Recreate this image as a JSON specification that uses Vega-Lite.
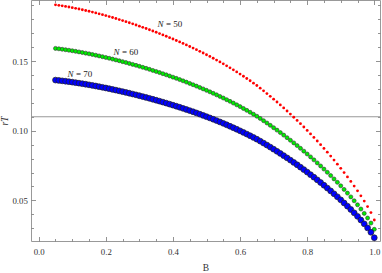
{
"$schema":"https://vega.github.io/schema/vega-lite/v6.json",
"width":349,"height":241,"autosize":"none",
"padding":{"left":31,"top":0,"right":2,"bottom":32},
"config":{"view":{"stroke":"#999","strokeWidth":1},
"axis":{"domain":false,"grid":false,"tickColor":"#777","tickWidth":0.8,"labelFont":"Liberation Serif","labelFontSize":8.8,"labelColor":"#333","labelFlush":false,"titleFont":"Liberation Serif","titleFontSize":9.5,"titleFontWeight":"normal","titleColor":"#333"}},
"datasets":{
"hline":[{"r":0.11}],
"n50":[{"B":0.05,"r":0.19031},{"B":0.06,"r":0.18995},{"B":0.07,"r":0.18957},{"B":0.08,"r":0.18916},{"B":0.09,"r":0.18873},{"B":0.10,"r":0.18828},{"B":0.11,"r":0.18780},{"B":0.12,"r":0.18730},{"B":0.13,"r":0.18678},{"B":0.14,"r":0.18623},{"B":0.15,"r":0.18567},{"B":0.16,"r":0.18509},{"B":0.17,"r":0.18448},{"B":0.18,"r":0.18386},{"B":0.19,"r":0.18322},{"B":0.20,"r":0.18256},{"B":0.21,"r":0.18188},{"B":0.22,"r":0.18118},{"B":0.23,"r":0.18047},{"B":0.24,"r":0.17974},{"B":0.25,"r":0.17899},{"B":0.26,"r":0.17823},{"B":0.27,"r":0.17745},{"B":0.28,"r":0.17665},{"B":0.29,"r":0.17584},{"B":0.30,"r":0.17501},{"B":0.31,"r":0.17416},{"B":0.32,"r":0.17330},{"B":0.33,"r":0.17242},{"B":0.34,"r":0.17152},{"B":0.35,"r":0.17060},{"B":0.36,"r":0.16967},{"B":0.37,"r":0.16872},{"B":0.38,"r":0.16775},{"B":0.39,"r":0.16676},{"B":0.40,"r":0.16576},{"B":0.41,"r":0.16473},{"B":0.42,"r":0.16368},{"B":0.43,"r":0.16262},{"B":0.44,"r":0.16153},{"B":0.45,"r":0.16042},{"B":0.46,"r":0.15928},{"B":0.47,"r":0.15813},{"B":0.48,"r":0.15695},{"B":0.49,"r":0.15574},{"B":0.50,"r":0.15451},{"B":0.51,"r":0.15326},{"B":0.52,"r":0.15197},{"B":0.53,"r":0.15066},{"B":0.54,"r":0.14932},{"B":0.55,"r":0.14795},{"B":0.56,"r":0.14655},{"B":0.57,"r":0.14512},{"B":0.58,"r":0.14365},{"B":0.59,"r":0.14215},{"B":0.60,"r":0.14062},{"B":0.61,"r":0.13906},{"B":0.62,"r":0.13745},{"B":0.63,"r":0.13581},{"B":0.64,"r":0.13413},{"B":0.65,"r":0.13242},{"B":0.66,"r":0.13053},{"B":0.67,"r":0.12861},{"B":0.68,"r":0.12666},{"B":0.69,"r":0.12467},{"B":0.70,"r":0.12264},{"B":0.71,"r":0.12057},{"B":0.72,"r":0.11847},{"B":0.73,"r":0.11633},{"B":0.74,"r":0.11414},{"B":0.75,"r":0.11193},{"B":0.76,"r":0.10967},{"B":0.77,"r":0.10737},{"B":0.78,"r":0.10502},{"B":0.79,"r":0.10263},{"B":0.80,"r":0.10020},{"B":0.81,"r":0.09772},{"B":0.82,"r":0.09519},{"B":0.83,"r":0.09261},{"B":0.84,"r":0.08999},{"B":0.85,"r":0.08731},{"B":0.86,"r":0.08458},{"B":0.87,"r":0.08178},{"B":0.88,"r":0.07893},{"B":0.89,"r":0.07601},{"B":0.90,"r":0.07303},{"B":0.91,"r":0.06997},{"B":0.92,"r":0.06683},{"B":0.93,"r":0.06360},{"B":0.94,"r":0.06027},{"B":0.95,"r":0.05684},{"B":0.96,"r":0.05326},{"B":0.97,"r":0.04952},{"B":0.98,"r":0.04557},{"B":0.99,"r":0.04127},{"B":1.00,"r":0.03594}],
"n60":[{"B":0.05,"r":0.15905},{"B":0.06,"r":0.15875},{"B":0.07,"r":0.15843},{"B":0.08,"r":0.15809},{"B":0.09,"r":0.15773},{"B":0.10,"r":0.15734},{"B":0.11,"r":0.15694},{"B":0.12,"r":0.15652},{"B":0.13,"r":0.15608},{"B":0.14,"r":0.15563},{"B":0.15,"r":0.15515},{"B":0.16,"r":0.15466},{"B":0.17,"r":0.15415},{"B":0.18,"r":0.15363},{"B":0.19,"r":0.15309},{"B":0.20,"r":0.15253},{"B":0.21,"r":0.15197},{"B":0.22,"r":0.15138},{"B":0.23,"r":0.15078},{"B":0.24,"r":0.15017},{"B":0.25,"r":0.14954},{"B":0.26,"r":0.14890},{"B":0.27,"r":0.14824},{"B":0.28,"r":0.14757},{"B":0.29,"r":0.14688},{"B":0.30,"r":0.14619},{"B":0.31,"r":0.14547},{"B":0.32,"r":0.14475},{"B":0.33,"r":0.14401},{"B":0.34,"r":0.14325},{"B":0.35,"r":0.14249},{"B":0.36,"r":0.14170},{"B":0.37,"r":0.14090},{"B":0.38,"r":0.14009},{"B":0.39,"r":0.13926},{"B":0.40,"r":0.13841},{"B":0.41,"r":0.13755},{"B":0.42,"r":0.13667},{"B":0.43,"r":0.13577},{"B":0.44,"r":0.13485},{"B":0.45,"r":0.13392},{"B":0.46,"r":0.13297},{"B":0.47,"r":0.13200},{"B":0.48,"r":0.13100},{"B":0.49,"r":0.12999},{"B":0.50,"r":0.12896},{"B":0.51,"r":0.12790},{"B":0.52,"r":0.12682},{"B":0.53,"r":0.12572},{"B":0.54,"r":0.12459},{"B":0.55,"r":0.12344},{"B":0.56,"r":0.12226},{"B":0.57,"r":0.12106},{"B":0.58,"r":0.11983},{"B":0.59,"r":0.11857},{"B":0.60,"r":0.11728},{"B":0.61,"r":0.11596},{"B":0.62,"r":0.11461},{"B":0.63,"r":0.11323},{"B":0.64,"r":0.11182},{"B":0.65,"r":0.11038},{"B":0.66,"r":0.10880},{"B":0.67,"r":0.10718},{"B":0.68,"r":0.10554},{"B":0.69,"r":0.10386},{"B":0.70,"r":0.10216},{"B":0.71,"r":0.10042},{"B":0.72,"r":0.09865},{"B":0.73,"r":0.09685},{"B":0.74,"r":0.09502},{"B":0.75,"r":0.09315},{"B":0.76,"r":0.09126},{"B":0.77,"r":0.08932},{"B":0.78,"r":0.08735},{"B":0.79,"r":0.08534},{"B":0.80,"r":0.08329},{"B":0.81,"r":0.08121},{"B":0.82,"r":0.07908},{"B":0.83,"r":0.07692},{"B":0.84,"r":0.07471},{"B":0.85,"r":0.07246},{"B":0.86,"r":0.07016},{"B":0.87,"r":0.06781},{"B":0.88,"r":0.06541},{"B":0.89,"r":0.06296},{"B":0.90,"r":0.06045},{"B":0.91,"r":0.05788},{"B":0.92,"r":0.05524},{"B":0.93,"r":0.05253},{"B":0.94,"r":0.04973},{"B":0.95,"r":0.04684},{"B":0.96,"r":0.04383},{"B":0.97,"r":0.04069},{"B":0.98,"r":0.03736},{"B":0.99,"r":0.03375},{"B":1.00,"r":0.02927}],
"n70":[{"B":0.05,"r":0.13631},{"B":0.06,"r":0.13605},{"B":0.07,"r":0.13577},{"B":0.08,"r":0.13547},{"B":0.09,"r":0.13515},{"B":0.10,"r":0.13482},{"B":0.11,"r":0.13447},{"B":0.12,"r":0.13410},{"B":0.13,"r":0.13372},{"B":0.14,"r":0.13332},{"B":0.15,"r":0.13291},{"B":0.16,"r":0.13248},{"B":0.17,"r":0.13204},{"B":0.18,"r":0.13158},{"B":0.19,"r":0.13111},{"B":0.20,"r":0.13063},{"B":0.21,"r":0.13013},{"B":0.22,"r":0.12962},{"B":0.23,"r":0.12910},{"B":0.24,"r":0.12857},{"B":0.25,"r":0.12802},{"B":0.26,"r":0.12746},{"B":0.27,"r":0.12689},{"B":0.28,"r":0.12630},{"B":0.29,"r":0.12571},{"B":0.30,"r":0.12510},{"B":0.31,"r":0.12448},{"B":0.32,"r":0.12385},{"B":0.33,"r":0.12320},{"B":0.34,"r":0.12254},{"B":0.35,"r":0.12187},{"B":0.36,"r":0.12119},{"B":0.37,"r":0.12050},{"B":0.38,"r":0.11978},{"B":0.39,"r":0.11906},{"B":0.40,"r":0.11832},{"B":0.41,"r":0.11757},{"B":0.42,"r":0.11681},{"B":0.43,"r":0.11602},{"B":0.44,"r":0.11523},{"B":0.45,"r":0.11441},{"B":0.46,"r":0.11358},{"B":0.47,"r":0.11274},{"B":0.48,"r":0.11187},{"B":0.49,"r":0.11099},{"B":0.50,"r":0.11009},{"B":0.51,"r":0.10917},{"B":0.52,"r":0.10823},{"B":0.53,"r":0.10727},{"B":0.54,"r":0.10629},{"B":0.55,"r":0.10528},{"B":0.56,"r":0.10426},{"B":0.57,"r":0.10321},{"B":0.58,"r":0.10213},{"B":0.59,"r":0.10104},{"B":0.60,"r":0.09991},{"B":0.61,"r":0.09877},{"B":0.62,"r":0.09759},{"B":0.63,"r":0.09639},{"B":0.64,"r":0.09516},{"B":0.65,"r":0.09391},{"B":0.66,"r":0.09253},{"B":0.67,"r":0.09112},{"B":0.68,"r":0.08969},{"B":0.69,"r":0.08823},{"B":0.70,"r":0.08674},{"B":0.71,"r":0.08523},{"B":0.72,"r":0.08369},{"B":0.73,"r":0.08212},{"B":0.74,"r":0.08052},{"B":0.75,"r":0.07890},{"B":0.76,"r":0.07724},{"B":0.77,"r":0.07556},{"B":0.78,"r":0.07384},{"B":0.79,"r":0.07209},{"B":0.80,"r":0.07030},{"B":0.81,"r":0.06849},{"B":0.82,"r":0.06664},{"B":0.83,"r":0.06475},{"B":0.84,"r":0.06283},{"B":0.85,"r":0.06087},{"B":0.86,"r":0.05886},{"B":0.87,"r":0.05682},{"B":0.88,"r":0.05473},{"B":0.89,"r":0.05259},{"B":0.90,"r":0.05040},{"B":0.91,"r":0.04816},{"B":0.92,"r":0.04586},{"B":0.93,"r":0.04350},{"B":0.94,"r":0.04106},{"B":0.95,"r":0.03855},{"B":0.96,"r":0.03593},{"B":0.97,"r":0.03319},{"B":0.98,"r":0.03029},{"B":0.99,"r":0.02714},{"B":1.00,"r":0.02324}],
"labs":[{"B":0.3716,"r":0.17654,"n":"N","t":"= 50"},{"B":0.2406,"r":0.15681,"n":"N","t":"= 60"},{"B":0.1036,"r":0.14067,"n":"N","t":"= 70"}]
},
"resolve":{"axis":{"x":"independent","y":"independent"}},
"layer":[
{"data":{"name":"hline"},"mark":{"type":"rule","color":"#999","strokeWidth":1},
 "encoding":{"y":{"field":"r","type":"quantitative","scale":{"domain":[0.02088,0.19376],"nice":false,"zero":false},"axis":null}}},
{"data":{"name":"n50"},"mark":{"type":"circle","size":8,"color":"#ff0000","opacity":1},
 "encoding":{"x":{"field":"B","type":"quantitative","scale":{"domain":[-0.023,1.017],"nice":false,"zero":false},
   "axis":{"orient":"bottom","values":[0,0.2,0.4,0.6,0.8,1],"format":".1f","tickSize":-4.5,"labelPadding":10.7,"title":"B","titlePadding":6}},
  "y":{"field":"r","type":"quantitative","scale":{"domain":[0.02088,0.19376],"nice":false,"zero":false},
   "axis":{"orient":"left","values":[0.05,0.1,0.15],"format":".2f","tickSize":-4.5,"labelPadding":8.2,"title":"rT","titleFontStyle":"italic","titlePadding":2}}}},
{"data":{"name":"n60"},"mark":{"type":"circle","size":16,"fill":"#00ee00","stroke":"#333","strokeWidth":0.6,"opacity":1},
 "encoding":{"x":{"field":"B","type":"quantitative","scale":{"domain":[-0.023,1.017],"nice":false,"zero":false},
   "axis":{"orient":"top","values":[0,0.2,0.4,0.6,0.8,1],"tickSize":-4.5,"labels":false,"title":null}},
  "y":{"field":"r","type":"quantitative","scale":{"domain":[0.02088,0.19376],"nice":false,"zero":false},
   "axis":{"orient":"right","values":[0.05,0.1,0.15],"tickSize":-4.5,"labels":false,"title":null}}}},
{"data":{"name":"n70"},"mark":{"type":"circle","size":34,"fill":"#0000ff","stroke":"#222","strokeWidth":0.7,"opacity":1},
 "encoding":{"x":{"field":"B","type":"quantitative","scale":{"domain":[-0.023,1.017],"nice":false,"zero":false},
   "axis":{"orient":"bottom","values":[0.05,0.1,0.15,0.25,0.3,0.35,0.45,0.5,0.55,0.65,0.7,0.75,0.85,0.9,0.95],"tickSize":-2.5,"labels":false,"title":null}},
  "y":{"field":"r","type":"quantitative","scale":{"domain":[0.02088,0.19376],"nice":false,"zero":false},
   "axis":{"orient":"left","values":[0.03,0.04,0.06,0.07,0.08,0.09,0.11,0.12,0.13,0.14,0.16,0.17,0.18,0.19],"tickSize":-2.5,"labels":false,"title":null}}}},
{"data":{"name":"labs"},"mark":{"type":"text","font":"Liberation Serif","fontSize":9,"fontStyle":"italic","align":"right","baseline":"middle","color":"#222"},
 "encoding":{"x":{"field":"B","type":"quantitative","scale":{"domain":[-0.023,1.017],"nice":false,"zero":false},
   "axis":{"orient":"top","values":[0.05,0.1,0.15,0.25,0.3,0.35,0.45,0.5,0.55,0.65,0.7,0.75,0.85,0.9,0.95],"tickSize":-2.5,"labels":false,"title":null}},
  "y":{"field":"r","type":"quantitative","scale":{"domain":[0.02088,0.19376],"nice":false,"zero":false},
   "axis":{"orient":"right","values":[0.03,0.04,0.06,0.07,0.08,0.09,0.11,0.12,0.13,0.14,0.16,0.17,0.18,0.19],"tickSize":-2.5,"labels":false,"title":null}},
  "text":{"field":"n"}}},
{"data":{"name":"labs"},"mark":{"type":"text","font":"Liberation Serif","fontSize":9,"align":"left","baseline":"middle","dx":2.5,"color":"#222"},
 "encoding":{"x":{"field":"B","type":"quantitative","scale":{"domain":[-0.023,1.017],"nice":false,"zero":false},"axis":null},
  "y":{"field":"r","type":"quantitative","scale":{"domain":[0.02088,0.19376],"nice":false,"zero":false},"axis":null},
  "text":{"field":"t"}}}
]
}
